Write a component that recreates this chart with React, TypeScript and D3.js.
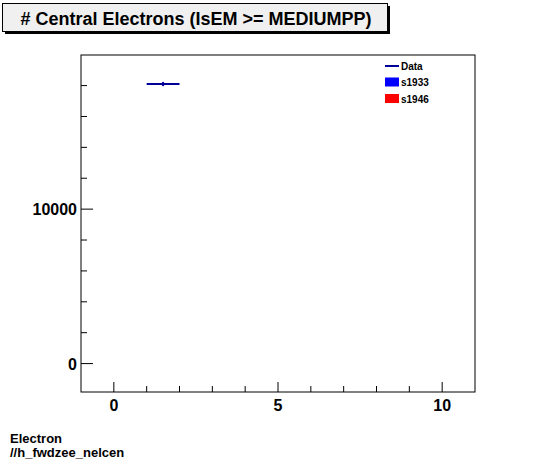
import * as d3 from 'd3';

// histogram contents
const binEdges = [1, 2];
const binValues = [18100];
const binErrors = [135];

const xMajorTicks = [0, 5, 10];
const xMinorTicks = [1, 2, 3, 4, 6, 7, 8, 9];
const yMajorTicks = [0, 10000];
const yMinorTicks = [2000, 4000, 6000, 8000, 12000, 14000, 16000, 18000];

const legendItems = [
  { label: 'Data', kind: 'line', color: '#000099' },
  { label: 's1933', kind: 'box', color: '#0000ff' },
  { label: 's1946', kind: 'box', color: '#ff0000' },
];

const FONT = '"Liberation Sans", Arial, Helvetica, sans-serif';

export default function App() {
  const width = 546;
  const height = 462;
  const frame = { left: 81, right: 475, top: 55, bottom: 392 };

  const x = d3.scaleLinear().domain([-1, 11]).range([frame.left, frame.right]);
  const y = d3.scaleLinear().domain([-1840, 19980]).range([frame.bottom, frame.top]);

  const dataColor = '#000099';

  return (
    <svg width={width} height={height} style={{ position: 'absolute', left: 0, top: 0, background: '#fff' }}>
      {/* title box */}
      <rect x={5} y={6} width={385} height={28} fill="#000" />
      <rect x={2.5} y={3.5} width={385} height={28} fill="#f0f0f0" stroke="#000" strokeWidth={1} />
      <text x={196} y={24.5} textAnchor="middle" fontFamily={FONT} fontWeight="bold" fontSize={18}>
        # Central Electrons (IsEM &gt;= MEDIUMPP)
      </text>

      {/* frame */}
      <rect
        x={frame.left}
        y={frame.top}
        width={frame.right - frame.left}
        height={frame.bottom - frame.top}
        fill="none"
        stroke="#000"
        strokeWidth={1}
      />

      {/* x ticks */}
      {xMajorTicks.map(t => (
        <line key={'xM' + t} x1={x(t)} x2={x(t)} y1={frame.bottom} y2={frame.bottom - 10} stroke="#000" />
      ))}
      {xMinorTicks.map(t => (
        <line key={'xm' + t} x1={x(t)} x2={x(t)} y1={frame.bottom} y2={frame.bottom - 6} stroke="#000" />
      ))}
      {xMajorTicks.map(t => (
        <text key={'xl' + t} x={x(t)} y={411} textAnchor="middle" fontFamily={FONT} fontWeight="bold" fontSize={16}>
          {t}
        </text>
      ))}

      {/* y ticks */}
      {yMajorTicks.map(t => (
        <line key={'yM' + t} x1={frame.left} x2={frame.left + 12} y1={y(t)} y2={y(t)} stroke="#000" />
      ))}
      {yMinorTicks.map(t => (
        <line key={'ym' + t} x1={frame.left} x2={frame.left + 6} y1={y(t)} y2={y(t)} stroke="#000" />
      ))}
      {yMajorTicks.map(t => (
        <text key={'yl' + t} x={77} y={y(t) + 6} textAnchor="end" fontFamily={FONT} fontWeight="bold" fontSize={16}>
          {t}
        </text>
      ))}

      {/* data */}
      {binValues.map((v, i) => {
        const xc = x((binEdges[i] + binEdges[i + 1]) / 2);
        return (
          <g key={'d' + i}>
            <line x1={x(binEdges[i])} x2={x(binEdges[i + 1])} y1={y(v)} y2={y(v)} stroke={dataColor} strokeWidth={2} />
            <line x1={xc} x2={xc} y1={y(v + binErrors[i])} y2={y(v - binErrors[i])} stroke={dataColor} strokeWidth={2} />
          </g>
        );
      })}

      {/* legend */}
      {legendItems.map((item, i) => {
        const cy = 66 + i * 16.5;
        return (
          <g key={item.label}>
            {item.kind === 'line' ? (
              <line x1={385} x2={399} y1={cy} y2={cy} stroke={item.color} strokeWidth={2} />
            ) : (
              <rect x={385} y={cy - 5} width={14} height={9} fill={item.color} />
            )}
            <text x={401} y={cy + 3.5} fontFamily={FONT} fontWeight="bold" fontSize={10}>
              {item.label}
            </text>
          </g>
        );
      })}

      {/* footer */}
      <text x={10} y={443} fontFamily={FONT} fontWeight="bold" fontSize={13}>Electron</text>
      <text x={10} y={457} fontFamily={FONT} fontWeight="bold" fontSize={13}>//h_fwdzee_nelcen</text>
    </svg>
  );
}
